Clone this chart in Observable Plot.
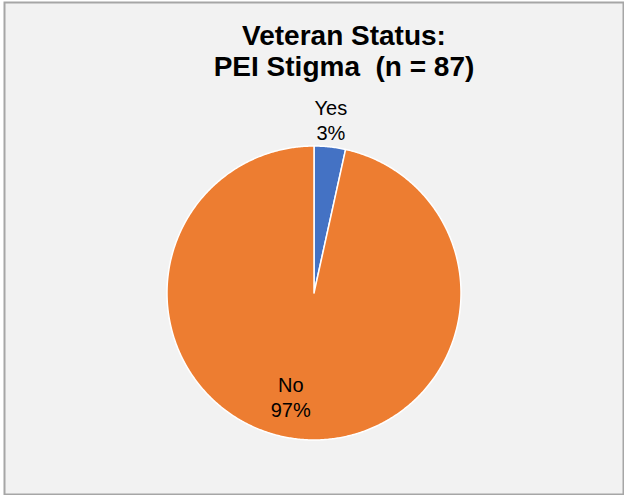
<!DOCTYPE html>
<html>
<head>
<meta charset="utf-8">
<script src="https://cdn.jsdelivr.net/npm/d3@7"></script>
<script src="https://cdn.jsdelivr.net/npm/@observablehq/plot@0.6"></script>
<style>
  html, body { margin: 0; padding: 0; background: #ffffff; }
  #chart svg { display: block; }
</style>
</head>
<body>
<div id="chart"></div>
<script>
// ---- Data ----
const categories = ["Yes", "No"];
const counts = [3, 84];
const percentLabels = ["3%", "97%"];
const sliceColors = ["#4472c4", "#ed7d31"];
const titleLines = ["Veteran Status:", "PEI Stigma  (n = 87)"];

// ---- Layout ----
const W = 624, H = 495;
const cx = 313.5, cy = 292.5, R = 147;
const font = "'Liberation Sans', Arial, sans-serif";

// ---- Pie geometry from d3.pie (start at top, clockwise) ----
const pie = d3.pie().sort(null).value(d => d.count);
const rows = categories.map((c, i) => ({category: c, count: counts[i], label: percentLabels[i]}));
const arcs = pie(rows);

const slicePts = [];
arcs.forEach(a => {
  const n = Math.max(4, Math.ceil((a.endAngle - a.startAngle) / (Math.PI / 360)));
  slicePts.push({category: a.data.category, x: 0, y: 0});
  for (let k = 0; k <= n; k++) {
    const t = a.startAngle + (a.endAngle - a.startAngle) * k / n;
    slicePts.push({category: a.data.category, x: Math.sin(t), y: Math.cos(t)});
  }
  slicePts.push({category: a.data.category, x: 0, y: 0});
});

// label positions: outside for the small slice, inside for the big one
const labelRadius = {Yes: 1.19, No: 0.707};
const labels = arcs.map(a => {
  const mid = (a.startAngle + a.endAngle) / 2;
  const r = labelRadius[a.data.category];
  return {text: a.data.category + "\n" + a.data.label, x: r * Math.sin(mid), y: r * Math.cos(mid)};
});

const chart = Plot.plot({
  width: W,
  height: H,
  margin: 0,
  style: {background: "#ffffff", fontFamily: font},
  x: {domain: [-cx / R, (W - cx) / R], axis: null},
  y: {domain: [-(H - cy) / R, cy / R], axis: null},
  color: {domain: categories, range: sliceColors},
  marks: [
    Plot.frame({fill: "#f2f2f2", stroke: "#a6a6a6", strokeWidth: 2, insetLeft: 4, insetTop: 2, insetRight: 1, insetBottom: 1}),
    Plot.line(slicePts, {x: "x", y: "y", z: "category", fill: "category", stroke: "#ffffff", strokeWidth: 1.5, curve: "linear", strokeLinejoin: "round"}),
    Plot.text(labels.filter((d, i) => i === 0), {x: "x", y: "y", text: "text", dx: -2, lineAnchor: "middle", lineHeight: 1.25, fontSize: 20, fill: "#000000", fontFamily: font}),
    Plot.text(labels.filter((d, i) => i === 1), {x: "x", y: "y", text: "text", dx: -12, lineAnchor: "middle", lineHeight: 1.25, fontSize: 20, fill: "#000000", fontFamily: font}),
    Plot.text([titleLines.join("\n")], {frameAnchor: "top", dx: 31.5, dy: 22, lineAnchor: "top", lineHeight: 1.11, fontSize: 28, fontWeight: "bold", fill: "#000000", fontFamily: font})
  ]
});
document.getElementById("chart").appendChild(chart);
</script>
</body>
</html>
